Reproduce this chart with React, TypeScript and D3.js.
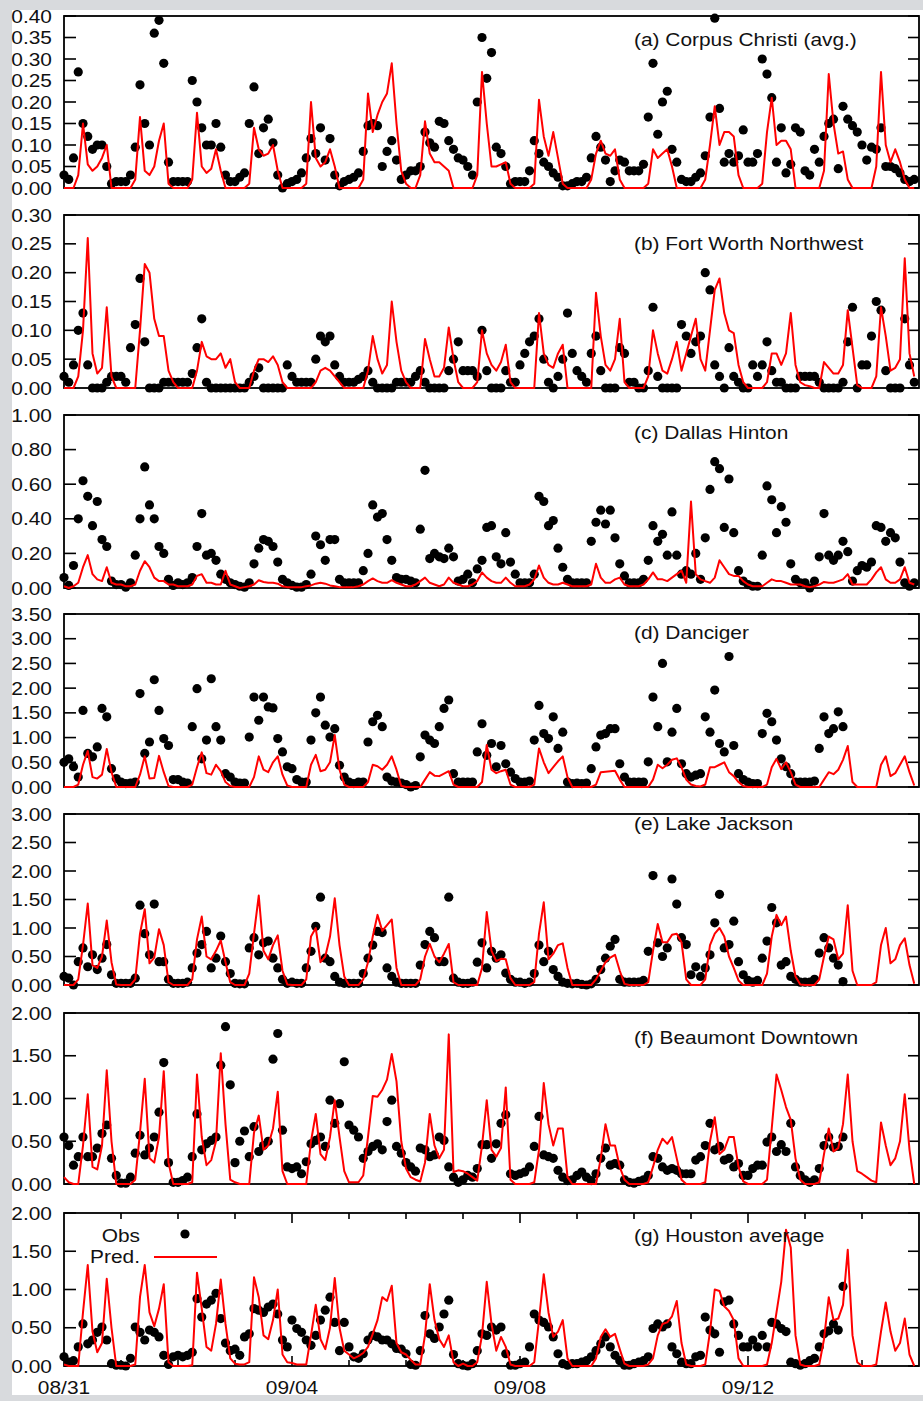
import React from 'react';
import * as d3 from 'd3';

const W = 923, H = 1401;
const X0 = 64, X1 = 919;
const STEP = 2; // hours between samples
const TOTAL_HOURS = 360;

const dateLabels = ["08/31", "09/04", "09/08", "09/12"];
const dateLabelDays = [0, 4, 8, 12];

// ---------- (a) Corpus Christi (avg.) ----------
const obsA = [
  0.03,0.02,0.07,0.27,0.15,0.12,0.09,0.10,0.10,0.05,0.01,0.015,
  0.015,0.015,0.03,0.095,0.24,0.15,0.10,0.36,0.39,0.29,0.06,0.015,
  0.015,0.015,0.015,0.25,0.20,0.14,0.10,0.10,0.15,0.095,0.03,0.015,
  0.015,0.025,0.035,0.15,0.235,0.08,0.14,0.16,0.105,0.03,0.0,0.01,
  0.015,0.02,0.035,0.07,0.115,0.08,0.14,0.065,0.115,0.03,0.005,0.015,
  0.02,0.025,0.035,0.085,0.145,0.15,0.145,0.05,0.085,0.11,0.065,0.02,
  0.03,0.04,0.04,0.05,0.13,0.105,0.095,0.155,0.15,0.11,0.09,0.07,
  0.065,0.05,0.03,0.20,0.35,0.255,0.315,0.095,0.08,0.05,0.01,0.015,
  0.015,0.015,0.04,0.11,0.08,0.06,0.05,0.035,0.025,0.005,0.005,0.01,
  0.015,0.015,0.025,0.07,0.12,0.095,0.065,0.015,0.04,0.065,0.06,0.04,
  0.04,0.04,0.055,0.165,0.29,0.125,0.20,0.225,0.09,0.06,0.02,0.015,
  0.015,0.025,0.035,0.075,0.165,0.395,0.185,0.06,0.08,0.06,0.075,0.135,
  0.06,0.06,0.08,0.30,0.265,0.21,0.06,0.14,0.035,0.055,0.14,0.13,
  0.04,0.03,0.09,0.06,0.12,0.15,0.16,0.045,0.19,0.16,0.145,0.13,
  0.10,0.065,0.095,0.09,0.14,0.05,0.05,0.045,0.035,0.02,0.015,0.02,
];
const predA = [
  0,0,0,0.03,0.15,0.055,0.04,0.05,0.07,0.10,0,0,
  0,0,0,0.02,0.165,0.04,0.03,0.05,0.11,0.15,0.01,0,
  0,0,0,0.02,0.175,0.05,0.035,0.045,0.09,0.04,0,0,
  0,0,0,0.01,0.14,0.09,0.075,0.08,0.10,0.04,0,0,
  0,0,0,0.01,0.20,0.07,0.05,0.06,0.09,0.05,0,0,
  0,0,0,0.02,0.22,0.13,0.17,0.20,0.22,0.29,0.15,0.04,
  0.01,0,0,0.03,0.155,0.08,0.06,0.06,0.05,0.04,0,0,
  0,0,0,0.03,0.27,0.15,0.05,0.05,0.055,0.06,0.01,0,
  0,0,0,0.01,0.205,0.12,0.075,0.13,0.07,0.01,0,0,
  0,0,0,0.02,0.08,0.11,0.08,0.075,0.09,0.02,0,0,
  0,0,0,0.01,0.09,0.07,0.08,0.09,0.05,0,0,0,
  0,0,0,0.02,0.10,0.19,0.10,0.13,0.13,0.12,0.03,0,
  0,0,0,0.01,0.13,0.21,0.10,0.11,0.11,0.09,0,0,
  0,0,0,0,0.04,0.265,0.15,0.08,0.085,0.02,0,0,
  0,0,0,0.05,0.27,0.10,0.06,0.09,0.06,0.02,0,0,
];

// ---------- (b) Fort Worth Northwest ----------
const obsB = [
  0.02,0.01,0.04,0.10,0.13,0.04,0,0,0,0.01,0.02,0.02,
  0.02,0.01,0.07,0.11,0.19,0.08,0,0,0,0.01,0.01,0.01,
  0.01,0.01,0.01,0.025,0.07,0.12,0.01,0,0,0,0,0,
  0,0,0,0.01,0.02,0.035,0,0,0,0,0,0.04,
  0.02,0.01,0.01,0.01,0.01,0.05,0.09,0.08,0.09,0.04,0.02,0.01,
  0.01,0.01,0.015,0.02,0.03,0.01,0,0,0,0,0.01,0.01,
  0.01,0.01,0.02,0.03,0.01,0,0,0,0,0.03,0.05,0.08,
  0.03,0.03,0.03,0.02,0.10,0.03,0,0,0,0.03,0.01,0.01,
  0.04,0.06,0.08,0.09,0.12,0.05,0.01,0,0.02,0.05,0.13,0.06,
  0.03,0.02,0.01,0.06,0.09,0.03,0,0,0,0.07,0.06,0.01,
  0.01,0,0,0.03,0.14,0.02,0,0,0,0,0.11,0.09,
  0.06,0.08,0.09,0.20,0.17,0.04,0.02,0,0.07,0.02,0.01,0,
  0,0.04,0.02,0.04,0.08,0.03,0.01,0.01,0,0,0,0.02,
  0.02,0.02,0.02,0.01,0,0,0,0,0.01,0.08,0.14,0,
  0.04,0.04,0.09,0.15,0.135,0.03,0,0,0,0.12,0.04,0.01,
];
const predB = [
  0,0,0,0.02,0.10,0.26,0.06,0.025,0.035,0.14,0.02,0,
  0,0,0,0,0.10,0.215,0.20,0.12,0.09,0.09,0.03,0.01,
  0,0,0,0,0.03,0.08,0.055,0.05,0.05,0.06,0.035,0.05,
  0.01,0,0,0,0.03,0.05,0.05,0.045,0.055,0.04,0.01,0,
  0,0,0,0,0,0.01,0.03,0.035,0.03,0.02,0.01,0,
  0,0,0,0,0.03,0.09,0.05,0.025,0.04,0.15,0.08,0.03,
  0.01,0,0,0,0.085,0.05,0.02,0.02,0.035,0.105,0.05,0.01,
  0,0,0,0.01,0.10,0.06,0.04,0.03,0.045,0.075,0.01,0,
  0,0,0,0,0.13,0.06,0.04,0.035,0.06,0.075,0,0,
  0,0,0,0,0.165,0.09,0.04,0.03,0.05,0.12,0.01,0,
  0,0,0,0.02,0.10,0.06,0.03,0.025,0.05,0.08,0.03,0.06,
  0.09,0.12,0.05,0.03,0.10,0.17,0.19,0.13,0.10,0.095,0.04,0.01,
  0,0,0,0,0.01,0.06,0.06,0.04,0.06,0.13,0.04,0.01,
  0.005,0.003,0,0,0.045,0.035,0.025,0.025,0.04,0.135,0.07,0.005,
  0,0,0,0.02,0.14,0.09,0.03,0.035,0.05,0.225,0.06,0.02,
];

// ---------- (c) Dallas Hinton ----------
const obsC = [
  0.06,0.015,0.13,0.40,0.62,0.53,0.36,0.50,0.28,0.24,0.04,0.02,
  0.02,0.005,0.03,0.19,0.40,0.70,0.48,0.40,0.24,0.20,0.05,0.015,
  0.03,0.02,0.03,0.06,0.24,0.43,0.19,0.20,0.16,0.08,0.05,0.03,
  0.02,0.01,0.005,0.03,0.14,0.23,0.28,0.27,0.24,0.15,0.05,0.03,
  0.015,0.005,0.005,0.02,0.08,0.30,0.25,0.16,0.28,0.28,0.05,0.03,
  0.03,0.03,0.03,0.10,0.20,0.48,0.41,0.43,0.28,0.16,0.06,0.05,
  0.05,0.04,0.03,0.34,0.68,0.17,0.20,0.18,0.17,0.23,0.18,0.04,
  0.05,0.08,0.03,0.11,0.16,0.35,0.36,0.18,0.14,0.32,0.15,0.08,
  0.03,0.03,0.03,0.08,0.53,0.50,0.36,0.39,0.23,0.12,0.05,0.03,
  0.03,0.03,0.03,0.27,0.38,0.45,0.37,0.45,0.29,0.14,0.07,0.03,
  0.03,0.03,0.05,0.16,0.36,0.27,0.31,0.19,0.44,0.19,0.08,0.10,
  0.08,0.20,0.05,0.29,0.57,0.73,0.69,0.35,0.63,0.32,0.10,0.04,
  0.02,0.01,0.01,0.19,0.59,0.51,0.32,0.47,0.38,0.14,0.05,0.03,
  0.03,0.0,0.04,0.18,0.43,0.19,0.16,0.19,0.27,0.21,0.04,0.10,
  0.13,0.12,0.15,0.36,0.35,0.27,0.32,0.29,0.15,0.03,0.01,0.03,
];
const predC = [
  0.01,0,0.01,0.03,0.12,0.19,0.08,0.05,0.04,0.12,0.03,0.02,
  0.02,0.01,0.01,0.02,0.10,0.155,0.12,0.06,0.04,0.04,0.02,0.02,
  0.01,0.01,0.01,0.02,0.07,0.08,0.03,0.03,0.02,0.02,0.10,0.02,
  0.01,0,0.005,0.01,0.02,0.045,0.035,0.03,0.03,0.025,0.01,0.005,
  0.005,0.005,0.005,0.01,0.015,0.025,0.03,0.025,0.015,0.01,0.005,0.005,
  0.005,0.005,0.01,0.02,0.04,0.055,0.04,0.03,0.03,0.045,0.03,0.02,
  0.01,0.01,0.02,0.04,0.06,0.03,0.02,0.01,0.02,0.06,0.03,0.02,
  0.01,0.01,0.02,0.04,0.09,0.06,0.04,0.03,0.03,0.06,0.03,0.01,
  0.01,0.01,0.02,0.05,0.13,0.06,0.03,0.02,0.02,0.03,0.02,0.01,
  0.01,0.01,0.01,0.02,0.14,0.06,0.03,0.03,0.05,0.06,0.02,0.01,
  0.01,0.01,0.02,0.05,0.09,0.05,0.05,0.04,0.06,0.08,0.10,0.03,
  0.50,0.08,0.05,0.04,0.03,0.06,0.16,0.12,0.08,0.07,0.07,0.04,
  0.02,0.01,0.01,0.01,0.03,0.05,0.04,0.04,0.03,0.02,0.02,0.02,
  0.01,0.005,0.01,0.02,0.035,0.03,0.03,0.04,0.05,0.08,0.02,0.02,
  0.02,0.02,0.05,0.09,0.12,0.05,0.03,0.03,0.05,0.12,0.03,0.02,
];

// ---------- (d) Danciger ----------
const obsD = [
  0.50,0.57,0.41,0.20,1.55,0.68,0.61,0.81,1.59,1.42,0.37,0.17,
  0.10,0.07,0.08,0.10,1.89,0.68,0.91,2.17,1.55,0.98,0.84,0.15,
  0.15,0.10,0.08,1.22,1.99,0.57,0.95,2.19,1.22,0.95,0.27,0.20,
  0.10,0.08,0.08,1.01,1.82,1.35,1.82,1.62,1.60,0.98,0.71,0.41,
  0.37,0.15,0.10,0.10,0.95,1.50,1.82,1.25,1.01,1.18,0.44,0.20,
  0.10,0.07,0.10,0.10,0.91,1.32,1.45,1.22,0.20,0.12,0.10,0.08,
  0.05,0.0,0.03,0.61,1.05,0.95,0.88,1.22,1.59,1.76,0.27,0.10,
  0.10,0.10,0.10,0.71,1.28,0.64,0.88,0.41,0.84,0.47,0.30,0.17,
  0.10,0.10,0.12,0.95,1.65,1.08,0.98,1.42,0.78,1.11,0.10,0.07,
  0.08,0.07,0.08,0.37,0.81,1.05,1.08,1.18,1.18,0.47,0.20,0.10,
  0.10,0.10,0.10,0.51,1.82,1.22,2.50,0.51,1.11,1.59,0.47,0.27,
  0.20,0.24,0.27,1.42,1.11,1.96,0.88,0.71,2.64,0.84,0.27,0.15,
  0.10,0.07,0.07,1.08,1.49,1.32,0.95,0.57,0.41,0.27,0.10,0.10,
  0.10,0.10,0.12,0.78,1.42,1.08,1.18,1.52,1.22,
];
const predD = [
  0,0,0,0.05,0.45,0.73,0.20,0.17,0.25,0.77,0.30,0,
  0,0,0,0,0.25,0.62,0.17,0.18,0.63,0.30,0.02,0,
  0,0,0,0.05,0.40,0.70,0.28,0.25,0.45,0.32,0.10,0.02,
  0,0,0,0,0.20,0.62,0.35,0.30,0.50,0.62,0.25,0.03,
  0,0,0,0,0.45,0.65,0.32,0.35,0.50,1.05,0.35,0.05,
  0,0,0,0,0.10,0.45,0.42,0.35,0.45,0.62,0.35,0.02,
  0,0,0,0,0.15,0.30,0.23,0.22,0.27,0.32,0.05,0,
  0,0,0,0,0.10,0.85,0.35,0.28,0.32,0.35,0.05,0,
  0,0,0,0.05,0.78,0.50,0.28,0.40,0.52,0.62,0.20,0,
  0,0,0,0,0.05,0.30,0.31,0.32,0.33,0.15,0,0,
  0,0,0,0,0.15,0.45,0.38,0.45,0.55,0.58,0.40,0.15,
  0.05,0.02,0.01,0.05,0.40,0.40,0.45,0.50,0.30,0.22,0.10,0.02,
  0,0,0,0,0.05,0.40,0.57,0.36,0.50,0.30,0.05,0,
  0,0,0,0,0.15,0.30,0.26,0.35,0.55,0.83,0.10,0,
  0,0,0,0,0.45,0.62,0.22,0.28,0.45,0.62,0.30,0.03,
];

// ---------- (e) Lake Jackson ----------
const obsE = [
  0.15,0.12,0.0,0.41,0.65,0.32,0.53,0.27,0.47,0.71,0.18,0.03,
  0.03,0.03,0.03,0.12,1.40,0.90,0.53,1.42,0.41,0.41,0.10,0.03,
  0.03,0.03,0.05,0.30,0.56,0.71,0.94,0.30,0.47,0.86,0.41,0.20,
  0.03,0.02,0.02,0.65,0.83,0.53,0.74,0.77,0.47,0.30,0.10,0.03,
  0.05,0.03,0.03,0.30,0.59,1.03,1.54,0.47,0.41,0.15,0.05,0.03,
  0.03,0.03,0.03,0.20,0.47,0.70,0.94,0.92,0.30,0.15,0.05,0.03,
  0.03,0.03,0.03,0.35,0.71,0.94,0.83,0.41,0.41,1.54,0.12,0.05,
  0.03,0.03,0.05,0.40,0.74,0.30,0.59,0.47,0.53,0.21,0.10,0.05,
  0.05,0.03,0.05,0.20,0.70,0.41,0.59,0.27,0.15,0.05,0.03,0.02,
  0.03,0.01,0.0,0.02,0.10,0.27,0.47,0.68,0.80,0.10,0.05,0.05,
  0.05,0.05,0.08,0.59,1.92,0.74,0.50,0.65,1.86,1.42,0.83,0.71,
  0.18,0.32,0.15,0.30,0.53,1.09,1.59,0.65,0.71,1.12,0.41,0.18,
  0.08,0.05,0.08,0.47,0.77,1.36,1.09,0.35,0.41,0.15,0.10,0.05,
  0.05,0.05,0.10,0.56,0.83,0.65,0.47,0.35,0.06,
];
const predE = [
  0,0,0,0.10,0.70,1.43,0.35,0.30,0.50,1.13,0.40,0.01,
  0,0,0,0.10,0.90,1.33,0.38,0.48,0.98,0.70,0.05,0,
  0,0,0,0.10,0.80,1.20,0.50,0.45,0.60,0.78,0.40,0.05,
  0,0,0,0.20,0.90,1.57,0.60,0.45,0.70,0.87,0.25,0.01,
  0,0,0,0.10,0.85,1.00,0.40,0.50,0.85,1.52,0.70,0.15,
  0,0,0,0.10,0.40,0.85,1.23,0.95,1.05,1.15,0.30,0,
  0,0,0,0.10,0.50,0.72,0.50,0.40,0.55,0.72,0.05,0,
  0,0,0,0,0.30,1.28,0.60,0.42,0.46,0.45,0.12,0,
  0,0,0,0.05,0.90,1.45,0.45,0.55,0.70,0.73,0.30,0,
  0,0,0,0,0.10,0.25,0.40,0.48,0.53,0.25,0.02,0,
  0,0,0,0.05,0.60,1.07,0.75,0.75,0.88,0.90,0.75,0.10,
  0,0,0,0.10,0.70,0.90,1.00,0.85,0.50,0.30,0.08,0,
  0,0,0,0,0.20,0.85,1.23,1.05,1.20,0.60,0.15,0.01,
  0,0,0,0.10,0.50,0.85,0.80,0.45,0.55,1.40,0.25,0,
  0,0,0,0.05,0.70,1.00,0.38,0.45,0.70,0.82,0.35,0.02,
];

// ---------- (f) Beaumont Downtown ----------
const obsF = [
  0.55,0.45,0.22,0.32,0.55,0.32,0.32,0.42,0.59,0.69,0.30,0.10,
  0.01,0.01,0.08,0.36,0.57,0.34,0.42,0.55,0.84,1.42,0.25,0.02,
  0.02,0.04,0.08,0.32,0.82,0.40,0.47,0.51,0.55,1.39,1.84,1.16,
  0.25,0.50,0.62,0.32,0.67,0.38,0.45,0.50,1.46,1.76,0.63,0.20,
  0.18,0.20,0.12,0.26,0.47,0.51,0.55,0.44,0.98,0.71,0.94,1.43,
  0.69,0.63,0.55,0.30,0.38,0.44,0.47,0.40,0.73,0.98,0.44,0.36,
  0.25,0.20,0.15,0.42,0.40,0.32,0.34,0.55,0.51,0.20,0.08,0.02,
  0.05,0.10,0.08,0.18,0.46,0.46,0.30,0.47,0.71,0.81,0.12,0.10,
  0.12,0.14,0.20,0.44,0.79,0.34,0.32,0.30,0.16,0.08,0.04,0.05,
  0.10,0.14,0.08,0.04,0.12,0.30,0.42,0.22,0.24,0.22,0.05,0.02,
  0.01,0.03,0.05,0.10,0.32,0.30,0.20,0.16,0.18,0.16,0.12,0.12,
  0.12,0.28,0.32,0.45,0.71,0.40,0.44,0.28,0.30,0.20,0.24,0.10,
  0.10,0.18,0.22,0.22,0.49,0.55,0.38,0.46,0.38,0.71,0.20,0.10,
  0.05,0.02,0.05,0.18,0.45,0.55,0.43,0.44,0.55,
];
const predF = [
  0.08,0.02,0,0,0.45,1.05,0.20,0.17,0.45,1.33,0.50,0,
  0,0,0,0.05,0.60,1.23,0.30,0.25,0.55,1.32,0.25,0,
  0,0,0,0.02,1.28,0.55,0.22,0.28,0.50,1.53,0.70,0.05,
  0.02,0,0,0,0.60,0.80,0.40,0.45,0.65,1.08,0.15,0,
  0,0,0,0,0.50,0.82,0.35,0.28,0.55,0.98,0.55,0.15,
  0.02,0.02,0.02,0.10,0.55,1.03,1.02,1.10,1.22,1.52,1.20,0.50,
  0.18,0.08,0.05,0.03,0.25,0.82,0.45,0.30,0.40,1.75,0.14,0.16,
  0.15,0.12,0.08,0.04,0.45,0.98,0.40,0.32,0.42,1.13,0.05,0,
  0,0,0,0.02,0.40,1.18,0.70,0.45,0.65,0.65,0.08,0,
  0,0,0,0,0,0.30,0.70,0.45,0.45,0.20,0.05,0,
  0,0,0,0.02,0.20,0.40,0.53,0.47,0.55,0.30,0.05,0,
  0,0,0,0.02,0.50,0.78,0.35,0.40,0.55,0.55,0.20,0.03,
  0,0,0,0,0.05,0.65,1.28,1.10,0.90,0.75,0.30,0.05,
  0,0,0,0.02,0.35,0.65,0.38,0.42,0.70,1.28,0.50,0.15,
  0.12,0.08,0.04,0.02,0.72,0.45,0.22,0.30,0.50,1.05,0.40,0,
];

// ---------- (g) Houston average ----------
const obsG = [
  0.12,0.05,0.07,0.25,0.55,0.29,0.34,0.44,0.51,0.34,0.03,0.01,
  0.01,0.0,0.10,0.51,0.44,0.34,0.47,0.44,0.38,0.14,0.02,0.12,
  0.14,0.12,0.14,0.18,0.88,0.64,0.81,0.86,0.95,0.62,0.30,0.20,
  0.22,0.14,0.38,0.42,0.75,0.73,0.70,0.77,0.81,0.68,0.34,0.25,
  0.60,0.49,0.44,0.34,0.27,0.40,0.60,0.73,0.90,0.57,0.20,0.57,
  0.25,0.12,0.10,0.16,0.34,0.40,0.38,0.34,0.34,0.29,0.23,0.22,
  0.16,0.02,0.01,0.20,0.66,0.42,0.36,0.51,0.68,0.86,0.15,0.03,
  0.01,0.0,0.03,0.20,0.42,0.40,0.51,0.47,0.51,0.16,0.01,0.01,
  0.03,0.05,0.25,0.68,0.60,0.57,0.51,0.38,0.16,0.03,0.01,0.03,
  0.03,0.05,0.07,0.12,0.20,0.29,0.38,0.25,0.14,0.07,0.01,0.01,
  0.03,0.05,0.07,0.12,0.49,0.55,0.51,0.55,0.25,0.16,0.05,0.03,
  0.03,0.12,0.14,0.64,0.47,0.42,0.18,0.84,0.86,0.55,0.40,0.25,
  0.25,0.34,0.25,0.40,0.25,0.57,0.55,0.49,0.45,0.05,0.03,0.01,
  0.03,0.07,0.10,0.25,0.42,0.46,0.55,0.47,1.04,
];
const predG = [
  0.02,0,0,0,0.70,1.32,0.45,0.18,0.30,1.14,0.50,0,
  0,0,0,0.02,0.90,1.32,0.70,0.52,0.75,1.07,0.05,0,
  0,0,0,0.01,1.22,0.75,0.25,0.20,0.55,1.13,0.55,0.10,
  0.03,0.02,0.02,0.05,1.16,0.90,0.40,0.35,0.60,1.00,0.15,0.05,
  0.04,0.02,0.02,0.02,0.40,0.80,0.35,0.22,0.50,1.15,0.50,0.20,
  0.15,0.10,0.13,0.17,0.25,0.42,0.60,0.90,0.85,1.05,0.30,0.18,
  0.15,0.08,0.02,0.02,0.40,1.07,0.60,0.35,0.25,0.40,0.05,0,
  0.03,0,0,0.05,0.40,1.10,0.55,0.20,0.38,0.25,0.02,0,
  0,0,0,0.05,0.60,1.20,0.70,0.38,0.45,0.60,0.10,0,
  0,0,0,0,0.10,0.38,0.48,0.38,0.42,0.22,0.03,0,
  0,0,0,0.02,0.10,0.40,0.55,0.57,0.65,0.85,0.30,0.02,
  0,0,0,0.02,0.45,1.00,0.98,0.78,0.72,0.60,0.10,0,
  0,0,0,0,0.02,0.30,0.70,1.10,1.78,1.55,0.40,0.02,
  0,0,0,0.02,0.35,0.90,0.60,0.62,0.80,1.52,0.40,0.05,
  0,0,0,0.02,0.45,0.83,0.45,0.20,0.30,0.62,0.15,0,
];

const titles = [
  "(a) Corpus Christi (avg.)",
  "(b) Fort Worth Northwest",
  "(c) Dallas Hinton",
  "(d) Danciger",
  "(e) Lake Jackson",
  "(f) Beaumont Downtown",
  "(g) Houston average",
];
const yMaxes = [0.40, 0.30, 1.00, 3.50, 3.00, 2.00, 2.00];
const ySteps = [0.05, 0.05, 0.20, 0.50, 0.50, 0.50, 0.50];
const obsSeries = [obsA, obsB, obsC, obsD, obsE, obsF, obsG];
const predSeries = [predA, predB, predC, predD, predE, predF, predG];

// layout (pixel frame of each panel)
const layout = [
  { top: 16, bottom: 188, titleY: 46 },
  { top: 215, bottom: 388, titleY: 250 },
  { top: 415, bottom: 588, titleY: 439 },
  { top: 614, bottom: 787, titleY: 639 },
  { top: 814, bottom: 985, titleY: 830 },
  { top: 1013, bottom: 1184, titleY: 1044 },
  { top: 1213, bottom: 1366, titleY: 1242 },
];

const FONT = "'Liberation Sans', Arial, Helvetica, sans-serif";
const SX = 1.13;
const FS = 18.5;

function Txt({ x, y, anchor = "start", children }: any) {
  return (
    <text
      transform={`translate(${x},${y}) scale(${SX},1)`}
      textAnchor={anchor}
      fontFamily={FONT}
      fontSize={FS}
      fill="#111"
    >
      {children}
    </text>
  );
}

const xScale = d3.scaleLinear().domain([0, TOTAL_HOURS]).range([X0, X1]);

function Panel({ idx }: { idx: number }) {
  const L = layout[idx];
  const yMax = yMaxes[idx];
  const y = d3.scaleLinear().domain([0, yMax]).range([L.bottom, L.top]);
  const ticks = d3.range(0, yMax + ySteps[idx] / 2, ySteps[idx]);
  const obs = obsSeries[idx];
  const pred = predSeries[idx];
  const line = d3
    .line<number>()
    .x((_, i) => xScale(i * STEP))
    .y((v) => y(v));
  const isLast = idx === layout.length - 1;
  const dayTicks = d3.range(1, TOTAL_HOURS / 24);
  return (
    <g>
      <rect x={X0} y={L.top} width={X1 - X0} height={L.bottom - L.top} fill="#fff" stroke="none" />
      {ticks.map((t, i) => (
        <g key={i}>
          <line x1={X0} x2={X0 + 12} y1={y(t)} y2={y(t)} stroke="#000" strokeWidth={1.6} />
          <line x1={X1 - 11} x2={X1} y1={y(t)} y2={y(t)} stroke="#000" strokeWidth={1.6} />
          <Txt x={52} y={y(t) + 6.6} anchor="end">{t.toFixed(2)}</Txt>
        </g>
      ))}
      {isLast &&
        dayTicks.map((d) => {
          const major = d % 4 === 0;
          const len = major ? 10 : 6;
          const xx = xScale(d * 24);
          return (
            <g key={"dt" + d}>
              <line x1={xx} x2={xx} y1={L.top} y2={L.top + len} stroke="#000" strokeWidth={1.6} />
              <line x1={xx} x2={xx} y1={L.bottom} y2={L.bottom - len} stroke="#000" strokeWidth={1.6} />
            </g>
          );
        })}
      <rect x={X0} y={L.top} width={X1 - X0} height={L.bottom - L.top} fill="none" stroke="#000" strokeWidth={1.8} />
      {obs.map((v, i) => (
        <circle key={i} cx={xScale(i * STEP)} cy={y(v)} r={4.6} fill="#000" />
      ))}
      <path d={line(pred) || ""} fill="none" stroke="#ff0000" strokeWidth={2} strokeLinejoin="round" />
      <Txt x={634} y={L.titleY}>{titles[idx]}</Txt>
    </g>
  );
}

export default function App() {
  const gL = layout[6];
  return (
    <div style={{ position: "absolute", left: 0, top: 0, width: W, height: H }}>
      <svg width={W} height={H} viewBox={`0 0 ${W} ${H}`} style={{ display: "block" }}>
        <rect x={0} y={0} width={W} height={H} fill="#d8dadd" />
        <rect x={12} y={10} width={W - 12} height={1385} fill="#ffffff" />
        {layout.map((_, i) => (
          <Panel key={i} idx={i} />
        ))}
        {/* legend */}
        <Txt x={140} y={gL.top + 29} anchor="end">Obs</Txt>
        <circle cx={185} cy={gL.top + 21} r={4.6} fill="#000" />
        <Txt x={140} y={gL.top + 50} anchor="end">Pred.</Txt>
        <line x1={154} x2={217} y1={gL.top + 44} y2={gL.top + 44} stroke="#ff0000" strokeWidth={2} />
        {/* date labels */}
        {dateLabels.map((lab, i) => (
          <Txt key={lab} x={xScale(dateLabelDays[i] * 24)} y={1394} anchor="middle">{lab}</Txt>
        ))}
      </svg>
    </div>
  );
}
